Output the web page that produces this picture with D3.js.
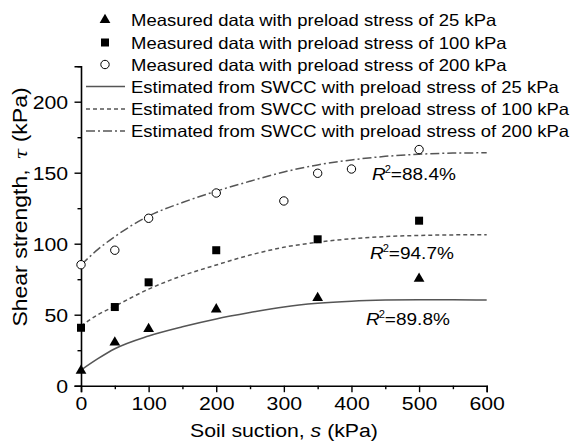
<!DOCTYPE html>
<html><head><meta charset="utf-8">
<script src="https://cdn.jsdelivr.net/npm/d3@7"></script>
<style>body{margin:0;background:#fff}svg{display:block}text{font-family:"Liberation Sans",Arial,sans-serif;fill:#000}</style>
</head><body><svg id="c" width="573" height="445"></svg>
<script>
// ---- data ----
const measured25 = [[0, 10.6], [50, 30.5], [100, 40], [200, 53.8], [350, 61.8], [500, 75.4]];
const measured100 = [[0, 40.8], [50, 55.4], [100, 72.8], [200, 95.4], [350, 103.1], [500, 116.2]];
const measured200 = [[0, 85.2], [50, 95.4], [100, 117.9], [200, 135.7], [300, 130.1], [350, 149.6], [400, 152.6], [500, 166.3]];
const curveX = [0, 25, 50, 100, 150, 200, 250, 300, 350, 400, 450, 500, 550, 600];
const est25 = [11, 19, 26, 35, 41.5, 47, 51.5, 55.5, 58, 59.5, 60.3, 60.6, 60.6, 60.3];
const est100 = [42, 50, 56, 68, 77.5, 85, 92, 97.5, 101, 103.5, 105, 105.8, 106.2, 106.3];
const est200 = [85, 96, 105, 119.5, 129, 137, 144, 150.5, 155.5, 159, 161.5, 163, 163.8, 164];
const xTicks = [0, 100, 200, 300, 400, 500, 600];
const yTicks = [0, 50, 100, 150, 200];
const r2Labels = ["88.4%", "94.7%", "89.8%"];
const legendLabels = [
  "Measured data with preload stress of 25 kPa",
  "Measured data with preload stress of 100 kPa",
  "Measured data with preload stress of 200 kPa",
  "Estimated from SWCC with preload stress of 25 kPa",
  "Estimated from SWCC with preload stress of 100 kPa",
  "Estimated from SWCC with preload stress of 200 kPa"
];

// ---- layout ----
const SX = 1.12;
const svg = d3.select("#c");
const x = d3.scaleLinear().domain([0, 600]).range([81, 486.7]);
const y = d3.scaleLinear().domain([0, 225]).range([385.7, 66.2]);
const curveCol = "#555";

function stretchText(g, px, py, anchor, size, sx) {
  return g.append("text").attr("transform", `translate(${px},${py}) scale(${sx || SX},1)`)
    .attr("text-anchor", anchor).attr("font-size", size);
}

// axes
const xAxis = d3.axisBottom(x).tickValues(xTicks).tickSize(6.5).tickPadding(4);
const gx = svg.append("g").attr("transform", `translate(0,${y(0)})`).call(xAxis);
const xMinor = d3.axisBottom(x).tickValues(d3.range(50, 600, 100)).tickSize(3.5).tickFormat("");
svg.append("g").attr("transform", `translate(0,${y(0)})`).call(xMinor).select(".domain").remove();
const yAxis = d3.axisLeft(y).tickValues(yTicks).tickSize(6.5).tickPadding(5);
const gy = svg.append("g").attr("transform", `translate(${x(0)},0)`).call(yAxis);
const yMinor = d3.axisLeft(y).tickValues(d3.range(25, 226, 50)).tickSize(3.5).tickFormat("");
svg.append("g").attr("transform", `translate(${x(0)},0)`).call(yMinor).select(".domain").remove();
svg.selectAll(".domain").attr("stroke", "#000").attr("stroke-width", 1.6);
svg.selectAll(".tick line").attr("stroke", "#000").attr("stroke-width", 1.4);
gx.selectAll(".tick text").attr("font-size", 19).attr("font-family", "Liberation Sans, Arial").attr("fill", "#000")
  .attr("transform", `scale(${SX},1)`).attr("dy", "0.75em");
gy.selectAll(".tick text").attr("font-size", 19).attr("font-family", "Liberation Sans, Arial").attr("fill", "#000")
  .attr("transform", `scale(${SX},1)`).attr("dy", "0.36em");

// curves
const line = d3.line().x(d => x(d[0])).y(d => y(d[1])).curve(d3.curveMonotoneX);
const dashes = [null, "4,3", "9,3,2,3"];
[est25, est100, est200].forEach((arr, i) => {
  svg.append("path").datum(curveX.map((v, j) => [v, arr[j]]))
    .attr("d", line).attr("fill", "none").attr("stroke", curveCol).attr("stroke-width", 1.5)
    .attr("stroke-dasharray", dashes[i]);
});

// markers
const tri = d3.symbol().type(d3.symbolTriangle).size(50);
svg.append("g").selectAll("path").data(measured25).join("path")
  .attr("d", tri).attr("transform", d => `translate(${x(d[0])},${y(d[1])})`).attr("fill", "#000");
svg.append("g").selectAll("rect").data(measured100).join("rect")
  .attr("x", d => x(d[0]) - 4).attr("y", d => y(d[1]) - 4).attr("width", 8).attr("height", 8).attr("fill", "#000");
svg.append("g").selectAll("circle").data(measured200).join("circle")
  .attr("cx", d => x(d[0])).attr("cy", d => y(d[1])).attr("r", 4.2)
  .attr("fill", "#fff").attr("stroke", "#000").attr("stroke-width", 1);

// R2 labels
const r2Pos = [[372, 180], [370, 259], [366, 325]];
r2Labels.forEach((lab, i) => {
  const t = stretchText(svg, r2Pos[i][0], r2Pos[i][1], "start", 17);
  t.append("tspan").attr("font-style", "italic").text("R");
  t.append("tspan").attr("font-size", 10).attr("dy", -7).attr("dx", -1).text("2");
  t.append("tspan").attr("dy", 7).text("=" + lab);
});

// axis titles
const xt = stretchText(svg, 284, 437, "middle", 19);
xt.append("tspan").text("Soil suction, ");
xt.append("tspan").attr("font-style", "italic").text("s");
xt.append("tspan").text(" (kPa)");
const yt = svg.append("text").attr("transform", `translate(27,207) rotate(-90) scale(1.15,1)`)
  .attr("text-anchor", "middle").attr("font-size", 20);
yt.append("tspan").text("Shear strength, ");
yt.append("tspan").attr("font-style", "italic").attr("font-family", "DejaVu Serif, serif").attr("font-size", 17).attr("dx", 3).text("τ");
yt.append("tspan").text(" (kPa)");

// legend
const legBase = [26, 48.5, 70.5, 92.5, 115, 137];
const leg = svg.append("g");
legendLabels.forEach((lab, i) => {
  stretchText(leg, 131, legBase[i], "start", 16.5).text(lab);
  const cy = legBase[i] - 6;
  if (i === 0) leg.append("path").attr("d", tri).attr("transform", `translate(105,${cy})`).attr("fill", "#000");
  else if (i === 1) leg.append("rect").attr("x", 101).attr("y", cy - 4).attr("width", 8).attr("height", 8).attr("fill", "#000");
  else if (i === 2) leg.append("circle").attr("cx", 105).attr("cy", cy).attr("r", 4.2).attr("fill", "#fff").attr("stroke", "#000");
  else leg.append("line").attr("x1", 86).attr("x2", 125).attr("y1", cy).attr("y2", cy)
    .attr("stroke", curveCol).attr("stroke-width", 1.5).attr("stroke-dasharray", dashes[i - 3]);
});
</script></body></html>
